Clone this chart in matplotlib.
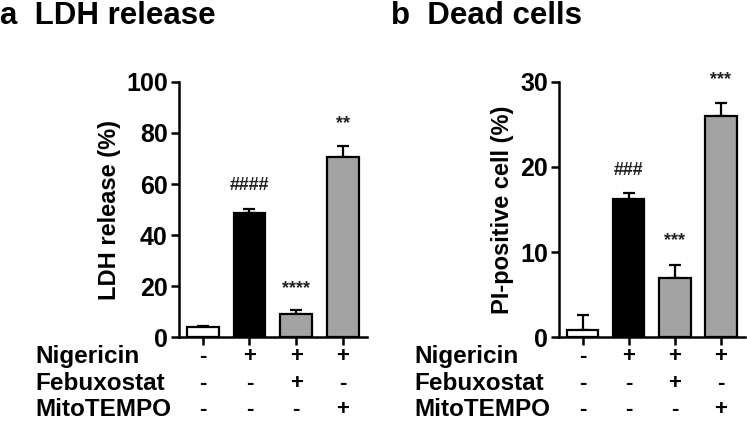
import matplotlib.pyplot as plt
import matplotlib.transforms as mtransforms

plt.rcParams['font.family'] = ['Liberation Sans', 'DejaVu Sans']
plt.rcParams['font.weight'] = 'bold'
plt.rcParams['axes.labelweight'] = 'bold'

bar_colors = ["white", "black", "#a3a3a3", "#a3a3a3"]

ldh_mean = [4.0, 48.6, 9.2, 70.6]
ldh_err = [0.3, 1.7, 1.3, 4.2]
ldh_marks = ["", "####", "****", "**"]
ldh_mark_y = [0, 59.5, 19.0, 83.5]

pi_mean = [0.8, 16.2, 7.0, 26.0]
pi_err = [1.8, 0.8, 1.5, 1.5]
pi_marks = ["", "###", "***", "***"]
pi_mark_y = [0, 19.6, 11.3, 30.3]

row_names = ["Nigericin", "Febuxostat", "MitoTEMPO"]
row_signs = [["-", "+", "+", "+"],
             ["-", "-", "+", "-"],
             ["-", "-", "-", "+"]]
row_y = [0.155, 0.091, 0.030]

fig = plt.figure(figsize=(7.47, 4.22), dpi=100)


def panel(rect, means, errs, marks, mark_y, ymax, step, ylabel, title, name_x, title_x):
    ax = fig.add_axes(rect)
    x = range(len(means))
    ax.bar(x, means, width=0.68, color=bar_colors, edgecolor="black", linewidth=1.6, zorder=2)
    ax.errorbar(x, means, yerr=[[0] * len(errs), errs], fmt="none", ecolor="black",
                elinewidth=1.6, capsize=4.5, capthick=1.6, zorder=1)
    for xi, m, my in zip(x, marks, mark_y):
        ax.text(xi, my, m, ha="center", va="center", fontsize=13, color="#222222")
    ax.set_xlim(-0.51, 3.52)
    ax.set_ylim(0, ymax)
    ax.set_yticks(range(0, ymax + 1, step))
    ax.set_xticks(list(x))
    ax.set_xticklabels([])
    ax.tick_params(axis="both", width=1.8, length=6, labelsize=18, pad=2)
    for s in ["top", "right"]:
        ax.spines[s].set_visible(False)
    for s in ["left", "bottom"]:
        ax.spines[s].set_linewidth(1.8)
    ax.set_ylabel(ylabel, fontsize=17, labelpad=4)
    trans = mtransforms.blended_transform_factory(ax.transData, fig.transFigure)
    for signs, ry, nm in zip(row_signs, row_y, row_names):
        fig.text(name_x, ry, nm, ha="left", va="center", fontsize=17.5)
        for xi, sg in zip(x, signs):
            ax.text(xi, ry, sg, transform=trans, ha="center", va="center", fontsize=16)
    fig.text(title_x, 0.962, title, ha="left", va="center", fontsize=22.5)
    return ax


panel([0.2396, 0.2014, 0.2517, 0.6043], ldh_mean, ldh_err, ldh_marks, ldh_mark_y,
      100, 20, "LDH release (%)", "a  LDH release", 0.047, 0.0)
panel([0.7483, 0.2014, 0.2490, 0.6043], pi_mean, pi_err, pi_marks, pi_mark_y,
      30, 10, "PI-positive cell (%)", "b  Dead cells", 0.555, 0.523)

fig.savefig("out.png", dpi=100)
